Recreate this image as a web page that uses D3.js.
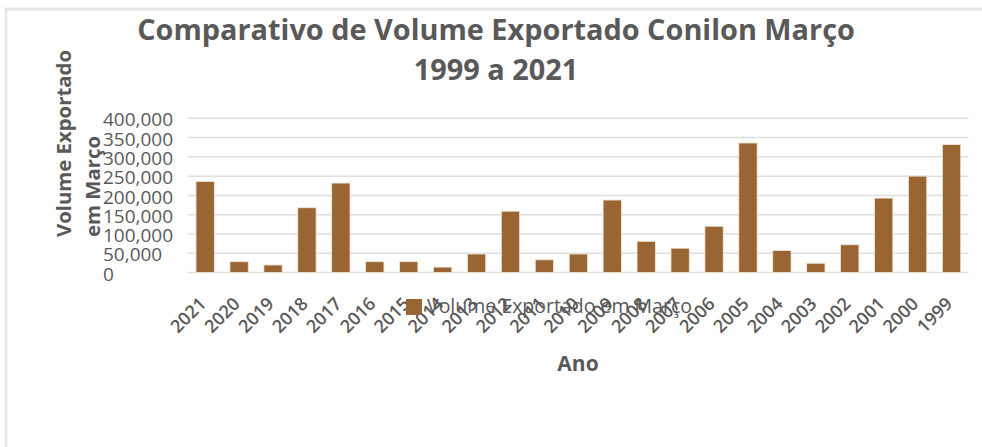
<!DOCTYPE html>
<html>
<head>
<meta charset="utf-8">
<script src="https://cdn.jsdelivr.net/npm/d3@7"></script>
<style>
  html, body { margin: 0; padding: 0; background: #ffffff; }
  svg { display: block; }
  text { font-family: "Open Sans", "DejaVu Sans", sans-serif; }
</style>
</head>
<body>
<svg id="chart" width="982" height="447"></svg>
<script>
// ---- data ----
const years = ["2021","2020","2019","2018","2017","2016","2015","2014","2013","2012","2011","2010",
               "2009","2008","2007","2006","2005","2004","2003","2002","2001","2000","1999"];
const volumes = [236000, 28000, 19500, 168000, 232000, 28000, 28000, 14000, 48000, 159000, 33000, 48000,
                 188000, 81000, 63000, 120000, 336000, 57000, 24000, 72000, 193000, 250000, 332000];
const yTicks = [0, 50000, 100000, 150000, 200000, 250000, 300000, 350000, 400000];
const titleLines = ["Comparativo de Volume Exportado Conilon Março", "1999 a 2021"];
const yTitleLines = ["Volume Exportado", "em Março"];
const xTitle = "Ano";
const legendLabel = "Volume Exportado em Março";

// ---- layout ----
const W = 982, H = 447;
const plot = { left: 188.2, right: 968.5, top: 118.3, bottom: 272.5 };
const textColor = "#595959";
const barColor = "#996633";

const svg = d3.select("#chart");

// frame
svg.append("line").attr("x1", 5).attr("x2", W).attr("y1", 9).attr("y2", 9)
   .attr("stroke", "#e6e6e6").attr("stroke-width", 3);
svg.append("line").attr("x1", 6).attr("x2", 6).attr("y1", 9).attr("y2", H)
   .attr("stroke", "#e6e6e6").attr("stroke-width", 2.5);

const x = d3.scaleBand().domain(years).range([plot.left, plot.right])
  .paddingInner(0.46).paddingOuter(0.23);
const y = d3.scaleLinear().domain([0, 400000]).range([plot.bottom, plot.top]);

function fitText(sel, target) {
  const fs = parseFloat(sel.attr("font-size"));
  const len = sel.node().getComputedTextLength();
  if (len > 0) sel.attr("font-size", (fs * target / len).toFixed(2));
}

// gridlines
svg.append("g").selectAll("line").data(yTicks).join("line")
  .attr("x1", plot.left).attr("x2", plot.right)
  .attr("y1", d => y(d)).attr("y2", d => y(d))
  .attr("stroke", "#dedede").attr("stroke-width", 1.5);

// bars
const data = years.map((yr, i) => ({ year: yr, value: volumes[i] }));
svg.append("g").selectAll("rect").data(data).join("rect")
  .attr("x", d => x(d.year))
  .attr("width", x.bandwidth())
  .attr("y", d => y(d.value))
  .attr("height", d => y(0) - y(d.value))
  .attr("fill", barColor)
  .attr("stroke", "#f3e6d8").attr("stroke-width", 0.8);

// y axis labels
const yAxis = svg.append("g")
  .call(d3.axisLeft(y).tickValues(yTicks).tickFormat(d3.format(",")).tickSize(0));
yAxis.select(".domain").remove();
yAxis.selectAll("text")
  .attr("x", 103).attr("text-anchor", "start").attr("dy", "0.4em")
  .attr("font-family", "Open Sans, sans-serif")
  .attr("font-size", 19).attr("fill", textColor);

// x axis labels
const xAxis = svg.append("g").call(d3.axisBottom(x).tickSize(0));
xAxis.select(".domain").remove();
xAxis.selectAll(".tick").attr("transform", null);
xAxis.selectAll("text")
  .attr("font-family", "Open Sans, sans-serif")
  .attr("font-size", 18).attr("font-weight", 600).attr("fill", textColor)
  .attr("text-anchor", "end").attr("dy", null).attr("y", null).attr("x", null)
  .attr("transform", d => `translate(${x(d) + x.bandwidth() / 2 + 2},305) rotate(-45)`);

// title
const t1 = svg.append("text").attr("x", 496).attr("y", 40).attr("text-anchor", "middle")
  .attr("font-size", 27).attr("font-weight", 700).attr("fill", textColor).text(titleLines[0]);
fitText(t1, 718);
svg.append("text").attr("x", 496).attr("y", 80).attr("text-anchor", "middle")
  .attr("font-size", t1.attr("font-size")).attr("font-weight", 700).attr("fill", textColor)
  .text(titleLines[1]);

// y title (two lines, rotated)
const yt1 = svg.append("text").attr("transform", "translate(71,237) rotate(-90)")
  .attr("text-anchor", "start").attr("font-size", 19).attr("font-weight", 700)
  .attr("fill", textColor).text(yTitleLines[0]);
fitText(yt1, 187);
svg.append("text").attr("transform", "translate(100,237) rotate(-90)")
  .attr("text-anchor", "start").attr("font-size", yt1.attr("font-size")).attr("font-weight", 700)
  .attr("fill", textColor).text(yTitleLines[1]);

// x title
svg.append("text").attr("x", 578).attr("y", 371).attr("text-anchor", "middle")
  .attr("font-size", 21).attr("font-weight", 700).attr("fill", textColor).text(xTitle);

// legend
const lg = svg.append("g");
lg.append("rect").attr("x", 406).attr("y", 299).attr("width", 16).attr("height", 16)
  .attr("fill", barColor);
const lt = lg.append("text").attr("x", 427).attr("y", 313)
  .attr("font-size", 19).attr("fill", textColor).text(legendLabel);
fitText(lt, 265);
</script>
</body>
</html>
